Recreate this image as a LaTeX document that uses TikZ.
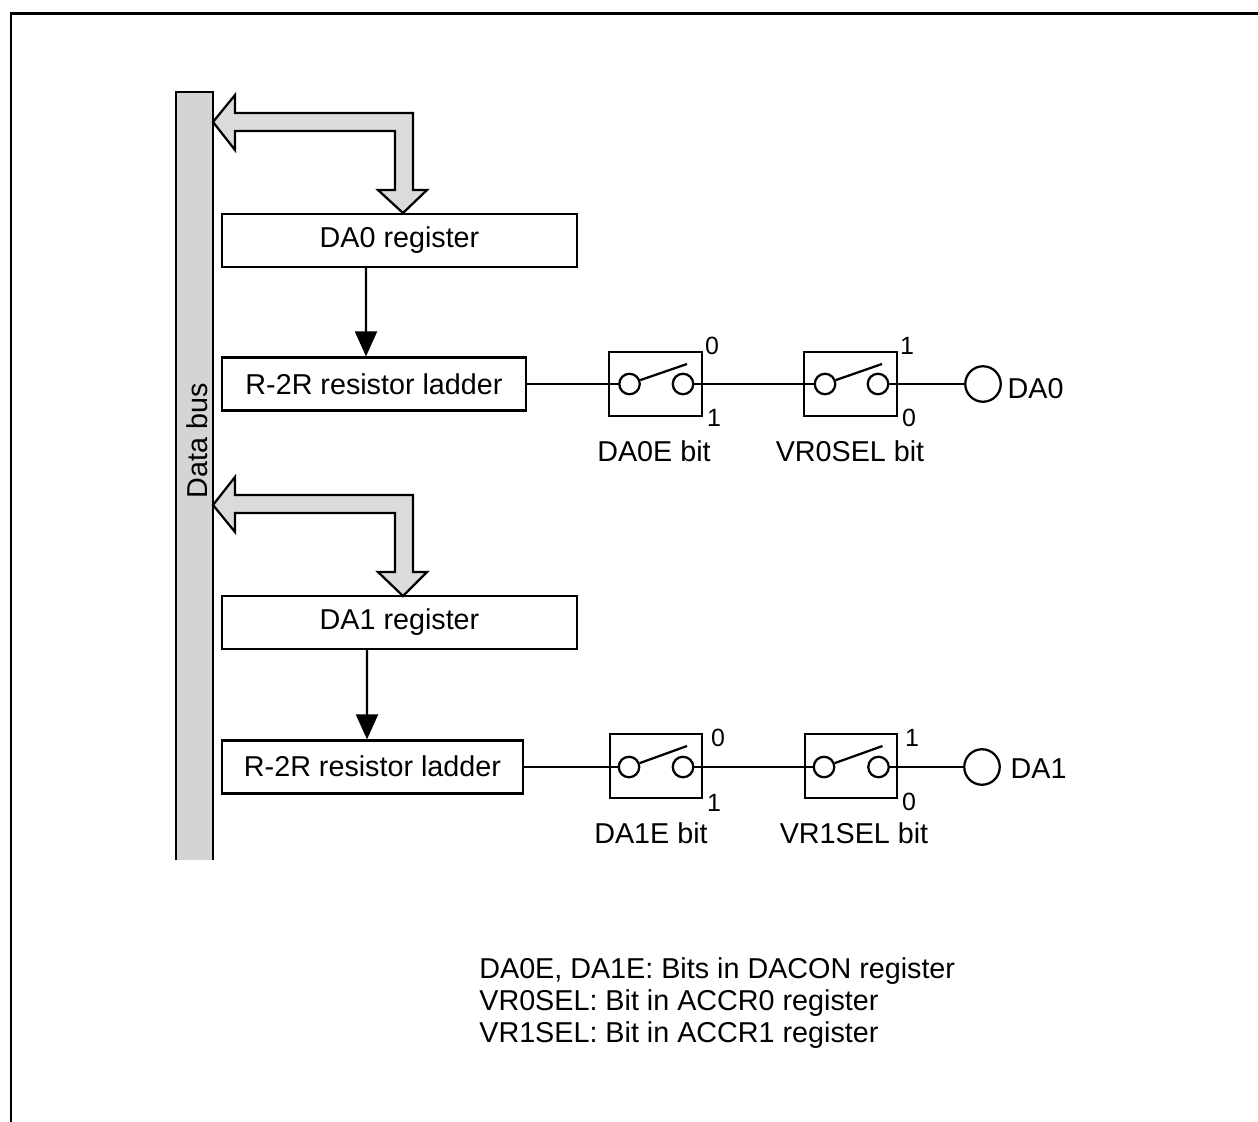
\documentclass[tikz,border=0pt]{standalone}
\usepackage{fontspec}
\setmainfont{Liberation Sans}
\usetikzlibrary{arrows.meta, positioning, shapes}

\begin{document}
\begin{tikzpicture}[
    x=0.02cm,
    y=-0.02cm,
    font=\fontsize{16.35}{18.2}\selectfont,
    box/.style={
        rectangle,
        draw,
        fill=white,
        line width=0.045cm,
        minimum height=1.06cm,
        inner sep=0pt
    },
    switchbox/.style={
        rectangle,
        draw,
        line width=0.045cm,
        minimum width=1.85cm,
        minimum height=1.29cm
    },
    contact/.style={
        circle,
        draw,
        line width=0.045cm,
        minimum size=0.41cm,
        inner sep=0pt
    },
    pin/.style={
        circle,
        draw,
        line width=0.045cm,
        minimum size=0.71cm,
        inner sep=0pt
    },
    digit/.style={font=\fontsize{14.2}{16}\selectfont, inner sep=0pt},
    wire/.style={line width=0.045cm},
    arrow/.style={-{Triangle[length=0.5cm, width=0.44cm]}, line width=0.045cm},
    busarrow/.style={draw, line width=0.045cm, fill=black!14, line join=miter}
]

\useasboundingbox (0,0) rectangle (1258,1122);

\draw[line width=0.06cm] (11,1122) -- (11,13.5) -- (1258,13.5);

\node[minimum width=0.74cm, minimum height=15.36cm, inner sep=0pt, fill=black!17] (bus) at (194.5,476) {};
\draw[wire] (bus.south west) -- (bus.north west) -- (bus.north east) -- (bus.south east);
\node[rotate=90] (buslabel) at (197,441) {Data bus};

\node[box, minimum width=7.1cm] (reg0) at (399.5,240.5) {\raisebox{1.2mm}{DA0 register}};
\node[box, minimum width=6.08cm] (lad0) at (374,384) {R-2R resistor ladder};
\node[box, minimum width=7.1cm] (reg1) at (399.5,622.5) {\raisebox{1.2mm}{DA1 register}};
\node[box, minimum width=6.02cm] (lad1) at (372.5,767) {\raisebox{0.4mm}{R-2R resistor ladder}};

\coordinate (tip0) at (213,122);
\coordinate (tip1) at (213,505);

\draw[busarrow] (tip0) -- ++(22,-27) -- ++(0,18) -- (413,113) -- (413,190) -- (427,190)
    -- (403,213) -- (378,190) -- (395,190) -- (395,131) -- (235,131) -- (235,150) -- cycle;
\draw[busarrow] (tip1) -- ++(22,-28) -- ++(0,18) -- (413,495) -- (413,572) -- (427,572)
    -- (403,596) -- (378,572) -- (395,572) -- (395,513) -- (235,513) -- (235,532) -- cycle;

\draw[arrow] ([xshift=-0.67cm]reg0.south) -- ([xshift=-0.16cm]lad0.north);
\draw[arrow] ([xshift=-0.65cm]reg1.south) -- ([xshift=-0.11cm]lad1.north);

\node[switchbox] (sw0) at (655.5,384) {};
\node[contact] (sw0a) at (629.5,384) {};
\node[contact] (sw0b) at (683,384) {};
\coordinate (sw0t) at (687,364);
\node[switchbox] (vr0) at (850.5,384) {};
\node[contact] (vr0a) at (825,384) {};
\node[contact] (vr0b) at (878,384) {};
\coordinate (vr0t) at (882,364);
\node[pin] (out0) at (983,384) {};

\node[switchbox] (sw1) at (656,766) {};
\node[contact] (sw1a) at (629,767) {};
\node[contact] (sw1b) at (683,767) {};
\coordinate (sw1t) at (687,746);
\node[switchbox] (vr1) at (851,766) {};
\node[contact] (vr1a) at (824,767) {};
\node[contact] (vr1b) at (878.5,767) {};
\coordinate (vr1t) at (882.5,746);
\node[pin] (out1) at (982,767) {};

\draw[wire] (lad0) -- (sw0a);
\draw[wire] (sw0b) -- (vr0a);
\draw[wire] (vr0b) -- (out0);
\draw[wire] (lad1) -- (sw1a);
\draw[wire] (sw1b) -- (vr1a);
\draw[wire] (vr1b) -- (out1);

\draw[wire] (sw0a.20) -- (sw0t);
\draw[wire] (vr0a.20) -- (vr0t);
\draw[wire] (sw1a.20) -- (sw1t);
\draw[wire] (vr1a.20) -- (vr1t);

\node[digit] (sw0on) at (712,346) {0};
\node[digit] (sw0off) at (714,418) {1};
\node[digit] (vr0on) at (907,346) {1};
\node[digit] (vr0off) at (909,418) {0};
\node[digit] (sw1on) at (718,738) {0};
\node[digit] (sw1off) at (714,803) {1};
\node[digit] (vr1on) at (912,738) {1};
\node[digit] (vr1off) at (909,802) {0};

\node (sw0label) at (654,451) {DA0E bit};
\node (vr0label) at (850,451) {VR0SEL bit};
\node (sw1label) at (651,833) {DA1E bit};
\node (vr1label) at (854,833) {VR1SEL bit};
\node[right=0.11cm of out0, yshift=-0.1cm, inner sep=0pt] (out0label) {DA0};
\node[right=0.19cm of out1, yshift=-0.04cm, inner sep=0pt] (out1label) {DA1};

\node[align=left, anchor=north west, inner sep=0pt] (notes) at (479,957) {
    DA0E, DA1E: Bits in DACON register\\
    VR0SEL: Bit in ACCR0 register\\
    VR1SEL: Bit in ACCR1 register
};

\end{tikzpicture}
\end{document}
